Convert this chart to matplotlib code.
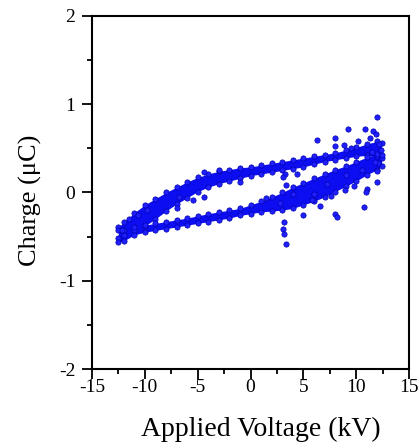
import matplotlib
matplotlib.use("Agg")
import matplotlib.pyplot as plt
from matplotlib.ticker import MultipleLocator

plt.rcParams['font.family'] = ['Liberation Serif', 'DejaVu Serif']
plt.rcParams['axes.unicode_minus'] = False

# ---- data ----
# upper branch (charging side) band
upper_V = [-12.5, -12, -11, -10, -9, -8, -7, -6, -5, -4, -3, -2, -1, 0,
           1, 2, 3, 4, 5, 6, 7, 8, 9, 10, 11, 12, 12.4]
upper_top = [-0.39, -0.34, -0.23, -0.14, -0.07, 0.00, 0.06, 0.12, 0.17, 0.21,
             0.24, 0.26, 0.28, 0.29, 0.31, 0.33, 0.35, 0.37, 0.39, 0.41,
             0.43, 0.45, 0.48, 0.51, 0.55, 0.58, 0.56]
upper_bot = [-0.51, -0.48, -0.43, -0.38, -0.30, -0.21, -0.13, -0.06, 0.01,
             0.06, 0.10, 0.13, 0.16, 0.19, 0.21, 0.23, 0.25, 0.27, 0.29,
             0.32, 0.35, 0.37, 0.39, 0.41, 0.42, 0.41, 0.39]

# lower branch (discharging side) band
lower_V = [-12.5, -12, -11, -10, -9, -8, -7, -6, -5, -4, -3, -2, -1, 0,
           1, 2, 3, 4, 5, 6, 7, 8, 9, 10, 11, 12, 12.4]
lower_top = [-0.43, -0.42, -0.39, -0.37, -0.35, -0.33, -0.31, -0.29, -0.265,
             -0.24, -0.22, -0.20, -0.18, -0.14, -0.10, -0.05, 0.00, 0.06,
             0.11, 0.16, 0.21, 0.26, 0.30, 0.35, 0.40, 0.44, 0.43]
lower_bot = [-0.56, -0.55, -0.48, -0.45, -0.43, -0.41, -0.39, -0.37, -0.35,
             -0.33, -0.31, -0.29, -0.26, -0.24, -0.22, -0.21, -0.20, -0.18,
             -0.14, -0.10, -0.05, 0.01, 0.07, 0.13, 0.20, 0.26, 0.30]

# scattered individual points
scatter_V = [6.3, 8.0, 9.25, 10.8, 12.0, 11.6, 8.0, 8.8, 3.3, 3.1, 3.4, 4.4,
             -4.4, -4.4, -7.0, -5.4, 3.05, 3.2, 3.4, 3.2, 5.0, 6.6, 8.0, 8.2,
             10.7, 11.0, 10.9, 12.0, 12.0, 12.1, 9.8, 8.9, 7.6, 5.8, -6.8,
             11.3, 11.9, 12.2, 10.2, 9.5, 11.5, 12.3, 7.2, 4.0, 2.8, 6.0,
             -9.8, -11.5, -12.2, -10.6, -3.0, -1.0, 1.5, 9.0, 10.5, 11.8]
scatter_Q = [0.60, 0.62, 0.72, 0.72, 0.85, 0.70, 0.53, 0.54, 0.21, 0.17, 0.085,
             0.21, 0.23, -0.055, -0.18, -0.09, -0.41, -0.47, -0.58, -0.33,
             -0.26, -0.15, -0.24, -0.28, -0.16, 0.035, 0.01, 0.12, 0.24, 0.33,
             0.07, 0.03, -0.04, -0.08, -0.05, 0.62, 0.66, 0.55, 0.58, 0.50,
             0.46, 0.48, 0.10, -0.02, -0.12, -0.02, -0.20, -0.30, -0.42,
             -0.25, 0.26, 0.12, -0.06, 0.20, 0.25, 0.35]

# axis settings
x_ticks = [-15, -10, -5, 0, 5, 10, 15]
y_ticks = [-2, -1, 0, 1, 2]

blue = '#0d0df2'
edge = '#0000a8'

fig = plt.figure(figsize=(4.2, 4.43), dpi=100)
ax = fig.add_axes([0.219, 0.167, 0.755, 0.797])

ax.fill_between(upper_V, upper_bot, upper_top, color=blue, lw=0, zorder=2)
ax.fill_between(lower_V, lower_bot, lower_top, color=blue, lw=0, zorder=2)

mk = dict(ls='none', marker='o', ms=3.8, mfc='#1f1fff', mec=edge, mew=0.5,
          zorder=3)
for ys in (upper_top, upper_bot):
    ax.plot(upper_V, ys, **mk)
for ys in (lower_top, lower_bot):
    ax.plot(lower_V, ys, **mk)
ax.plot(scatter_V, scatter_Q, **mk)

ax.set_xlim(-15, 15)
ax.set_ylim(-2, 2)
ax.set_xticks(x_ticks)
ax.set_yticks(y_ticks)
ax.xaxis.set_minor_locator(MultipleLocator(2.5))
ax.yaxis.set_minor_locator(MultipleLocator(0.5))
ax.tick_params(which='both', direction='out', top=False, right=False,
               width=1.3, labelsize=14, colors='black')
ax.tick_params(which='major', length=7)
ax.tick_params(which='minor', length=3.5)
ax.tick_params(axis='x', which='major', pad=0)
ax.tick_params(axis='y', which='major', pad=5)
for s in ax.spines.values():
    s.set_linewidth(1.5)

ax.set_xlabel('Applied Voltage (kV)', fontsize=20, labelpad=15)
ax.set_ylabel('Charge (\u03bcC)', fontsize=19, labelpad=12)
ax.xaxis.label.set_x(0.533)
ax.yaxis.label.set_y(0.479)

fig.savefig('out.png', dpi=100)
